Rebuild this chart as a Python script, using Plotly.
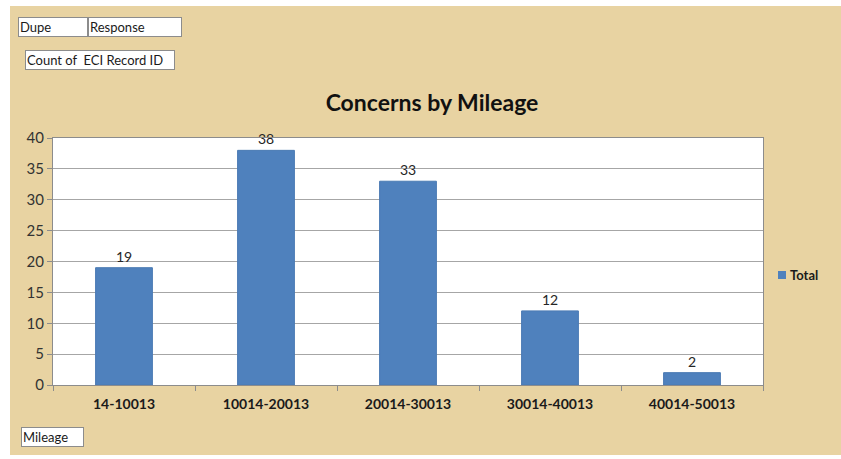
import plotly.graph_objects as go

# Pivot chart data
mileage = ['14-10013', '10014-20013', '20014-30013', '30014-40013', '40014-50013']
total = [19, 38, 33, 12, 2]
y_ticks = [0, 5, 10, 15, 20, 25, 30, 35, 40]
series_name = 'Total'

W, H = 841, 459
L, R, T, B = 53, 763, 138, 385  # plot area in pixels

def px(x):
    return (x - L) / (R - L)

def py(y):
    return (B - y) / (B - T)

FONT = 'Lato, Open Sans, sans-serif'
TAN = '#E8D3A2'
BLUE = '#4F81BD'

fig = go.Figure()

fig.add_trace(go.Bar(
    x=mileage,
    y=total,
    name=series_name,
    marker=dict(color=BLUE, line=dict(color='#4A7AB3', width=1)),
    text=total,
    textposition='outside',
    textfont=dict(family=FONT, size=14, color='#262626'),
    cliponaxis=False,
))

# white page edges around the parchment chart area, plus the legend key
shapes = [
    dict(type='rect', xref='paper', yref='paper', layer='below',
         x0=px(-5), x1=px(10), y0=py(470), y1=py(-5),
         fillcolor='white', line=dict(width=0)),
    dict(type='rect', xref='paper', yref='paper', layer='below',
         x0=px(-5), x1=px(850), y0=py(6), y1=py(-5),
         fillcolor='white', line=dict(width=0)),
    dict(type='rect', xref='paper', yref='paper', layer='below',
         x0=px(-5), x1=px(850), y0=py(470), y1=py(455),
         fillcolor='white', line=dict(width=0)),
    dict(type='rect', xref='paper', yref='paper',
         x0=px(778), x1=px(786), y0=py(279), y1=py(271),
         fillcolor=BLUE, line=dict(width=0)),
]

# Pivot field buttons
buttons = [
    ('Dupe', 18, 88, 27),
    ('Response', 88, 182, 27),
    ('Count of  ECI Record ID', 25, 175, 60),
    ('Mileage', 21, 84, 437),
]
annotations = []
for label, x0, x1, yc in buttons:
    annotations.append(dict(
        text=label, xref='paper', yref='paper',
        x=px(x0), y=py(yc), xanchor='left', yanchor='middle',
        showarrow=False, align='left',
        width=x1 - x0 - 4, height=16,
        bgcolor='white', bordercolor='#8C8C8C', borderwidth=1, borderpad=1,
        font=dict(family=FONT, size=13, color='#1a1a1a'),
    ))

# legend text (drawn by hand so it does not push the plot margins)
annotations.append(dict(
    text='<b>' + series_name + '</b>', xref='paper', yref='paper',
    x=px(788), y=py(275), xanchor='left', yanchor='middle',
    showarrow=False, font=dict(family=FONT, size=13, color='#1a1a1a'),
))

fig.update_layout(
    width=W, height=H,
    margin=dict(l=L, r=W - R, t=T, b=H - B, pad=0),
    paper_bgcolor=TAN,
    plot_bgcolor='white',
    title=dict(
        text='<b>Concerns by Mileage</b>',
        x=px(432), xanchor='center', xref='paper',
        y=1 - 103 / H, yanchor='middle',
        font=dict(family=FONT, size=23, color='#111111'),
    ),
    bargap=0.6,
    showlegend=False,
    xaxis=dict(
        showgrid=False,
        showline=True, linecolor='#8C8C8C', linewidth=1,
        ticks='outside', ticklen=5, tickcolor='#8C8C8C',
        tickson='boundaries',
        tickfont=dict(family=FONT, size=14, color='#1a1a1a', weight='bold'),
        ticklabelstandoff=6,
        mirror=True,
    ),
    yaxis=dict(
        range=[0, 40],
        tickvals=y_ticks,
        showgrid=True, gridcolor='#A6A6A6', gridwidth=1,
        showline=True, linecolor='#8C8C8C', linewidth=1,
        ticks='outside', ticklen=5, tickcolor='#8C8C8C',
        tickfont=dict(family=FONT, size=15, color='#333333'),
        zeroline=False,
        mirror=True,
    ),
    shapes=shapes,
    annotations=annotations,
)

fig.write_html(
    'out.html',
    config={'displayModeBar': False},
    post_script=(
        "document.body.style.margin='0';"
        "document.body.style.overflow='hidden';"
        "document.body.style.background='" + TAN + "';"
    ),
)
